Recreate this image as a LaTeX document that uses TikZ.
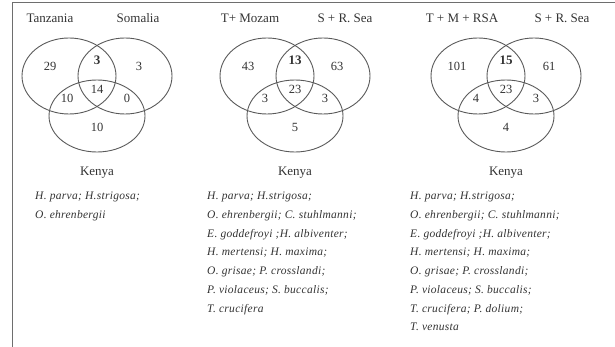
\documentclass[tikz,border=0pt]{standalone}
\usepackage{fontspec}
\setmainfont{Liberation Serif}
\usepackage{tikz}
\usetikzlibrary{positioning,shapes.geometric}
\definecolor{ink}{HTML}{333333}
\definecolor{rim}{HTML}{5A5A5A}
\definecolor{edge}{HTML}{6E6E6E}
\tikzset{
  venn/.style={draw=rim, line width=0.9pt, ellipse, inner sep=0pt,
               minimum width=94, minimum height=76},
  vennlow/.style={venn, minimum width=96, minimum height=72},
  cnt/.style={font=\fontsize{12.5}{12.5}\selectfont, text=ink, inner sep=1pt},
  hi/.style={cnt, font=\fontsize{13}{13}\selectfont\bfseries},
  place/.style={font=\fontsize{13}{15}\selectfont, text=ink, inner sep=1pt},
  spp/.style={font=\fontsize{11.5}{18.7}\selectfont\itshape\addfontfeatures{LetterSpace=2.5},
              text=ink, align=left, anchor=north west, inner sep=0pt},
}

\begin{document}
\begin{tikzpicture}[x=1pt,y=-1pt]
  \useasboundingbox (0,0) rectangle (615,347);
  % scanned frame
  \coordinate (f1) at (12,347);
  \coordinate (f2) at (12,3);
  \coordinate (f3) at (615,3);
  \draw[edge, line width=1pt] (f1) -- (f2) -- (f3);

  % Tanzania / Somalia / Kenya
  \node[venn] (tz) at (69,76) {};
  \node[venn] (so) at (125,76) {};
  \node[vennlow] (ke1) at (97,116) {};
  \node[place] (tzl) at (50,18) {Tanzania};
  \node[place] (sol) at (138,18) {Somalia};
  \node[place] (kel1) at (97,173) {Kenya};
  \node[cnt] at (50,66) {29};
  \node[hi] at (97,60) {3};
  \node[cnt] at (139,66) {3};
  \node[cnt] at (67,98) {10};
  \node[cnt] at (97,89) {14};
  \node[cnt] at (127,98) {0};
  \node[cnt] at (97,127) {10};
  \node[spp] (sp1) at (35,192) {H. parva; H.strigosa;\\O. ehrenbergii};

  % T+ Mozam / S + R. Sea / Kenya
  \node[venn] (tm) at (267,76) {};
  \node[venn] (sr) at (323,76) {};
  \node[vennlow] (ke2) at (295,116) {};
  \node[place] (tml) at (250,18) {T+ Mozam};
  \node[place] (srl) at (345,18) {S + R. Sea};
  \node[place] (kel2) at (295,173) {Kenya};
  \node[cnt] at (248,66) {43};
  \node[hi] at (295,60) {13};
  \node[cnt] at (337,66) {63};
  \node[cnt] at (265,98) {3};
  \node[cnt] at (295,89) {23};
  \node[cnt] at (325,98) {3};
  \node[cnt] at (295,127) {5};
  \node[spp] (sp2) at (207,192) {H. parva; H.strigosa;\\O. ehrenbergii; C. stuhlmanni;\\E. goddefroyi ;H. albiventer;\\H. mertensi; H. maxima;\\O. grisae; P. crosslandi;\\P. violaceus; S. buccalis;\\T. crucifera};

  % T + M + RSA / S + R. Sea / Kenya
  \node[venn] (tmr) at (478,76) {};
  \node[venn] (sr3) at (534,76) {};
  \node[vennlow] (ke3) at (506,116) {};
  \node[place] (tmrl) at (462,18) {T + M + RSA};
  \node[place] (sr3l) at (562,18) {S + R. Sea};
  \node[place] (kel3) at (506,173) {Kenya};
  \node[cnt] at (457,66) {101};
  \node[hi] at (506,60) {15};
  \node[cnt] at (549,66) {61};
  \node[cnt] at (476,98) {4};
  \node[cnt] at (506,89) {23};
  \node[cnt] at (536,98) {3};
  \node[cnt] at (506,127) {4};
  \node[spp] (sp3) at (410,192) {H. parva; H.strigosa;\\O. ehrenbergii; C. stuhlmanni;\\E. goddefroyi ;H. albiventer;\\H. mertensi; H. maxima;\\O. grisae; P. crosslandi;\\P. violaceus; S. buccalis;\\T. crucifera; P. dolium;\\T. venusta};
\end{tikzpicture}
\end{document}
